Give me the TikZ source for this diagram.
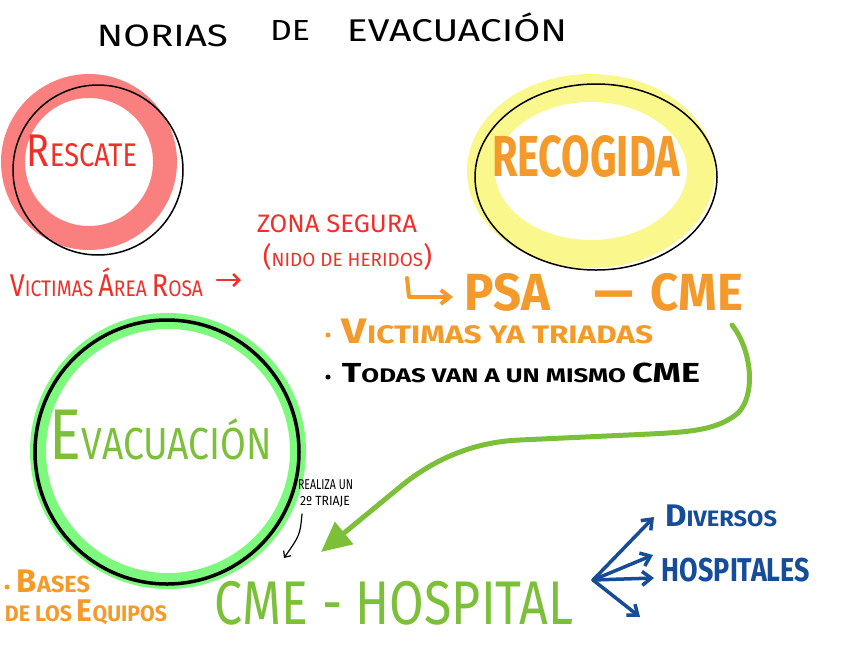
\documentclass[tikz,border=0pt]{standalone}
\usepackage{fontspec}
\setmainfont{Fira Sans}
\usetikzlibrary{arrows.meta}
\definecolor{hred}{RGB}{238,48,40}
\definecolor{hpink}{RGB}{250,128,128}
\definecolor{hyellow}{RGB}{250,248,140}
\definecolor{horange}{RGB}{243,154,43}
\definecolor{hlgreen}{RGB}{125,250,125}
\definecolor{hgreen}{RGB}{124,192,58}
\definecolor{hblue}{RGB}{22,76,152}
\newcommand\hw[3]{\resizebox*{#1pt}{#2pt}{#3}}
\newcommand\capL[1]{{\fontsize{14}{14}\selectfont #1}}
\begin{document}
\begin{tikzpicture}[x=1pt,y=-1pt,
  txt/.style={inner sep=0pt, anchor=center, font=\fontsize{10}{10}\selectfont},
  btxt/.style={inner sep=0pt, anchor=center, font=\bfseries\fontsize{10}{10}\selectfont},
  bul/.style={circle, inner sep=0pt, minimum size=5pt},
  barb/.style={-{Straight Barb[length=9pt,width=14pt]}, line cap=round, line join=round}]
\fill[white] (0,0) rectangle (848,656);
\useasboundingbox (0,0) rectangle (848,656);

% rings
\draw[hpink, line width=24pt] (89,162) circle [radius=76];
\draw[black, line width=1.5pt] (98,170) circle [radius=85];
\draw[hyellow, line width=28pt] (591,171) ellipse [x radius=110, y radius=83];
\draw[black, line width=1.5pt] (596,177) ellipse [x radius=121, y radius=93];
\draw[hlgreen, line width=16pt] (168,451) circle [radius=130];
\draw[black, line width=3.5pt] (167,452) circle [radius=132];

% title
\node[txt] (t1) at (162.5,36) {\hw{131}{22}{NORIAS}};
\node[txt] (t2) at (290,30) {\hw{40}{20}{DE}};
\node[txt] (t3) at (457,27.5) {\hw{220}{29}{EVACUACIÓN}};

% circle labels
\node[txt, text=hred] (rescate) at (82,151) {\hw{110}{32}{\capL{R}ESCATE}};
\node[btxt, text=horange] (recogida) at (586,156) {\hw{188}{42}{RECOGIDA}};
\node[txt, text=hgreen] (evac) at (161,435) {\hw{222}{50}{{\fontsize{16}{16}\selectfont E}VACUACIÓN}};

% zona segura
\node[txt, text=hred] (zona) at (337,224) {\hw{160}{18}{ZONA SEGURA}};
\node[txt, text=hred] (nido) at (347.5,256.5) {\hw{169}{27}{({\fontsize{7}{7}\selectfont NIDO DE HERIDOS})}};
\node[txt, text=hred] (vrosa) at (106.5,282.5) {\hw{193}{29}{\capL{V}ICTIMAS \capL{Á}REA \capL{R}OSA}};
\coordinate (r1) at (217,280);
\coordinate (r2) at (241,280);
\draw[barb, hred, line width=2.5pt, -{Straight Barb[length=6pt,width=12pt]}] (r1) -- (r2);

% PSA - CME
\coordinate (h1) at (407,278);
\coordinate (h2) at (453,297);
\draw[barb, horange, line width=4pt] (h1) -- (409,297) -- (h2);
\node[btxt, text=horange] (psacme) at (604,292) {\hw{278}{38}{PSA\hspace{0.9em}—\hspace{0.35em}CME}};
\node[bul, fill=horange] (b1) at (328,335) {};
\node[btxt, text=horange] (vtriad) at (497.5,331) {\hw{311}{25}{\capL{V}ICTIMAS YA TRIADAS}};
\node[bul, fill=black] (b2) at (328,377) {};
\node[btxt, text=black] (todas) at (521,373) {\hw{358}{20}{\capL{T}ODAS VAN A UN MISMO \capL{CME}}};

% green arrow
\coordinate (g0) at (732,325);
\coordinate (g1) at (321,552);
\draw[hgreen, line width=5pt, line cap=round, -{Triangle[length=30pt,width=28pt]}]
  (g0) .. controls (752,350) and (756,395) .. (738,413)
  .. controls (718,430) and (690,432) .. (650,434) -- (520,440)
  .. controls (470,442) and (430,462) .. (400,487) -- (g1);

% realiza un 2 triaje
\node[txt, text=black] (realiza) at (325.5,485) {\hw{55}{10}{REALIZA UN}};
\node[txt, text=black] (triaje) at (325,502) {\hw{50}{11}{2º TRIAJE}};
\coordinate (k1) at (302,514);
\coordinate (k2) at (284,558);
\draw[black, line width=1.2pt, line cap=round, -{Straight Barb[length=5pt,width=9pt]}] (k1) .. controls (300,535) .. (k2);

% CME - HOSPITAL
\node[txt, text=hgreen] (cmeh) at (394,603) {\hw{358}{44}{CME - HOSPITAL}};
\node[bul, fill=horange] (b3) at (7,587) {};
\node[btxt, text=horange] (bases) at (53.5,581) {\hw{73}{23}{\capL{B}ASES}};
\node[btxt, text=horange] (equipos) at (86,612.5) {\hw{162}{25}{DE LOS \capL{E}QUIPOS}};

% blue arrows
\coordinate (bo) at (593,580);
\coordinate (e1) at (654,517);
\coordinate (e2) at (653,555);
\coordinate (e3) at (654,578);
\coordinate (e4) at (640,617);
\draw[barb, hblue, line width=3.5pt] (bo) -- (e1);
\draw[barb, hblue, line width=3.5pt] (bo) -- (e2);
\draw[barb, hblue, line width=3.5pt] (bo) -- (e3);
\draw[barb, hblue, line width=3.5pt] (bo) -- (e4);
\node[btxt, text=hblue] (diversos) at (721,516) {\hw{112}{22}{\capL{D}IVERSOS}};
\node[btxt, text=hblue] (hospitales) at (736,570) {\hw{148}{24}{HOSPITALES}};
\end{tikzpicture}
\end{document}
